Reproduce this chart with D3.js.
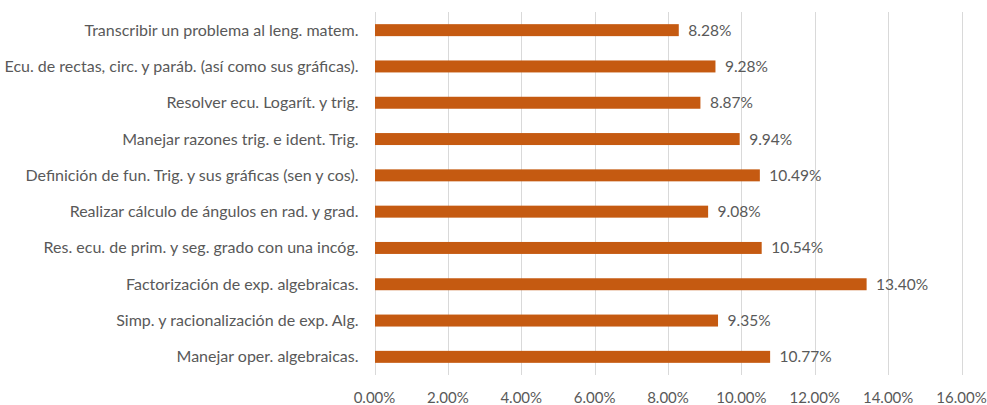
<!DOCTYPE html>
<html>
<head>
<meta charset="utf-8">
<script src="https://cdn.jsdelivr.net/npm/d3@7"></script>
<style>
  body { margin: 0; background: #fff; }
  text { font-family: Lato, "Open Sans", sans-serif; fill: #595959; }
</style>
</head>
<body>
<div class="chart"></div>
<script>
// Data
var categories = [
  "Transcribir un problema al leng. matem.",
  "Ecu. de rectas, circ. y paráb. (así como sus gráficas).",
  "Resolver ecu. Logarít. y trig.",
  "Manejar razones trig. e ident. Trig.",
  "Definición de fun. Trig. y sus gráficas (sen y cos).",
  "Realizar cálculo de ángulos en rad. y grad.",
  "Res. ecu. de prim. y seg. grado con una incóg.",
  "Factorización de exp. algebraicas.",
  "Simp. y racionalización de exp. Alg.",
  "Manejar oper. algebraicas."
];
var values = [0.0828, 0.0928, 0.0887, 0.0994, 0.1049, 0.0908, 0.1054, 0.1340, 0.0935, 0.1077];
var ticks = [0, 0.02, 0.04, 0.06, 0.08, 0.10, 0.12, 0.14, 0.16];

// Configuration
var width = 987;
var height = 405;
var plotLeft = 374.5, plotRight = 961.5, plotTop = 12, plotBottom = 375;

var svg = d3.select(".chart").append("svg")
    .attr("width", width)
    .attr("height", height);

var x = d3.scaleLinear().domain([0, 0.16]).range([plotLeft, plotRight]);
var y = d3.scaleBand().domain(categories).range([plotTop, plotBottom]).paddingInner(0.67).paddingOuter(0.335);

// gridlines
svg.append("g").selectAll("line")
    .data(ticks)
    .enter().append("line")
    .attr("x1", d => Math.round(x(d)) + 0.5)
    .attr("x2", d => Math.round(x(d)) + 0.5)
    .attr("y1", plotTop)
    .attr("y2", plotBottom)
    .attr("stroke", "#d9d9d9")
    .attr("stroke-width", 1);

// x tick labels
svg.append("g").selectAll("text")
    .data(ticks)
    .enter().append("text")
    .attr("x", d => x(d))
    .attr("y", 403)
    .attr("text-anchor", "middle")
    .style("font-size", "15px")
    .text(d => d3.format(".2%")(d));

// bars
svg.append("g").selectAll("rect")
    .data(values)
    .enter().append("rect")
    .attr("x", x(0) + 0.5)
    .attr("y", (d, i) => y(categories[i]))
    .attr("width", d => x(d) - x(0))
    .attr("height", y.bandwidth())
    .attr("fill", "#c55a11");

// value labels
svg.append("g").selectAll("text")
    .data(values)
    .enter().append("text")
    .attr("x", d => x(d) + 10)
    .attr("y", (d, i) => y(categories[i]) + y.bandwidth() / 2 + 5.5)
    .style("font-size", "15.5px")
    .text(d => d3.format(".2%")(d));

// category labels
svg.append("g").selectAll("text")
    .data(categories)
    .enter().append("text")
    .attr("x", plotLeft - 16)
    .attr("y", d => y(d) + y.bandwidth() / 2 + 5.5)
    .attr("text-anchor", "end")
    .style("font-size", "16px")
    .text(d => d);
</script>
</body>
</html>
